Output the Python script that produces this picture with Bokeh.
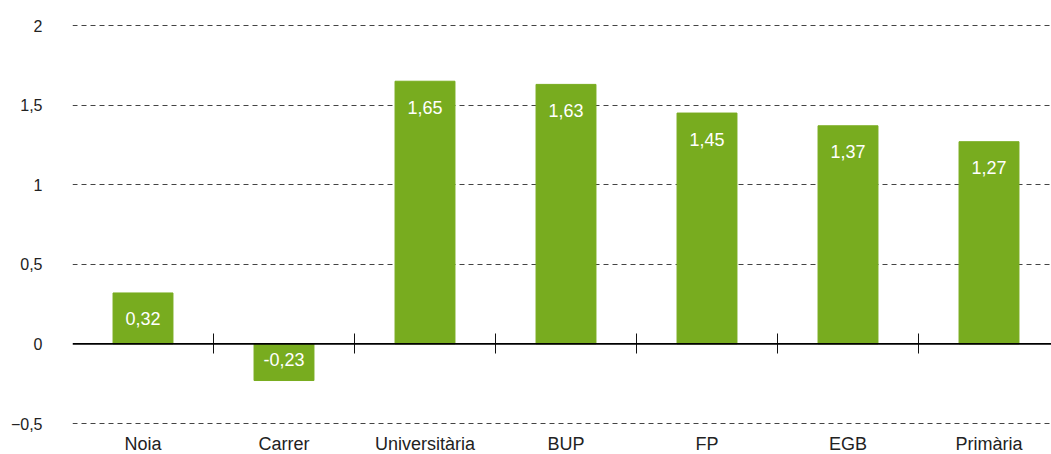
from bokeh.plotting import figure
from bokeh.models import Range1d, FixedTicker, LinearAxis, Span, ColumnDataSource
from bokeh.core.properties import value
from bokeh.embed import file_html
from bokeh.resources import INLINE

categories = ["Noia", "Carrer", "Universitària", "BUP", "FP", "EGB", "Primària"]
values = [0.32, -0.23, 1.65, 1.63, 1.45, 1.37, 1.27]
y_ticks = [-0.5, 0.0, 0.5, 1.0, 1.5, 2.0]
y_tick_labels = ["−0,5", "0", "0,5", "1", "1,5", "2"]

FONT = "Liberation Sans"
GREEN = "#78ac1f"
TEXT = "#222222"

n = len(categories)
xs = [i + 0.5 for i in range(n)]
labels = [f"{v:.2f}".replace(".", ",") for v in values]
label_y = [v if v > 0 else 0 for v in values]
label_off = [26 if v > 0 else 16 for v in values]

src = ColumnDataSource(dict(x=xs, v=values, lab=labels, ly=label_y, off=label_off))

W, H = 1051, 454
PX = 159.2  # pixels per unit on y
p = figure(width=W, height=H, output_backend="svg", toolbar_location=None,
           x_range=Range1d(0, 979 / 141), y_range=Range1d(-0.5 - 31 / PX, 2 + 25 / PX),
           min_border_left=72, min_border_right=0, min_border_top=0, min_border_bottom=0)
p.outline_line_color = None
p.background_fill_color = "white"
p.border_fill_color = "white"
p.xgrid.visible = False

# y axis
yax = p.yaxis[0]
yax.ticker = FixedTicker(ticks=y_ticks)
yax.major_label_overrides = {t: l for t, l in zip(y_ticks, y_tick_labels)}
yax.axis_line_color = None
yax.major_tick_line_color = None
yax.minor_tick_line_color = None
yax.major_label_standoff = 24
yax.major_label_text_font = FONT
yax.major_label_text_font_size = "16px"
yax.major_label_text_color = TEXT

# grid
p.ygrid.ticker = FixedTicker(ticks=[t for t in y_ticks if t != 0])
p.ygrid.grid_line_color = "#444444"
p.ygrid.grid_line_dash = "5 4"
p.ygrid.grid_line_width = 1

# category axis at -0.5
xax = p.xaxis[0]
xax.fixed_location = -0.5
xax.ticker = FixedTicker(ticks=xs)
xax.major_label_overrides = {x: c for x, c in zip(xs, categories)}
xax.axis_line_color = None
xax.major_tick_line_color = None
xax.minor_tick_line_color = None
xax.major_label_standoff = 4
xax.major_label_text_font = FONT
xax.major_label_text_font_size = "18px"
xax.major_label_text_color = TEXT

# bars
p.vbar(x="x", top="v", bottom=0, width=0.425, color=GREEN, source=src)

# zero line
p.add_layout(Span(location=0, dimension="width", line_color="black", line_width=1.6))

# boundary ticks on zero line
tick_axis = LinearAxis(fixed_location=0, ticker=FixedTicker(ticks=list(range(1, n))),
                       axis_line_color=None, major_tick_in=10, major_tick_out=10,
                       major_tick_line_color="#111111", major_tick_line_width=1,
                       minor_tick_line_color=None, major_label_text_color=None)
p.add_layout(tick_axis, "below")

# value labels
p.text(x="x", y="ly", text="lab", y_offset="off", source=src,
       text_align="center", text_baseline="alphabetic", text_color="white",
       text_font=value(FONT), text_font_size="18px")

open("out.html", "w").write(file_html(p, INLINE))
